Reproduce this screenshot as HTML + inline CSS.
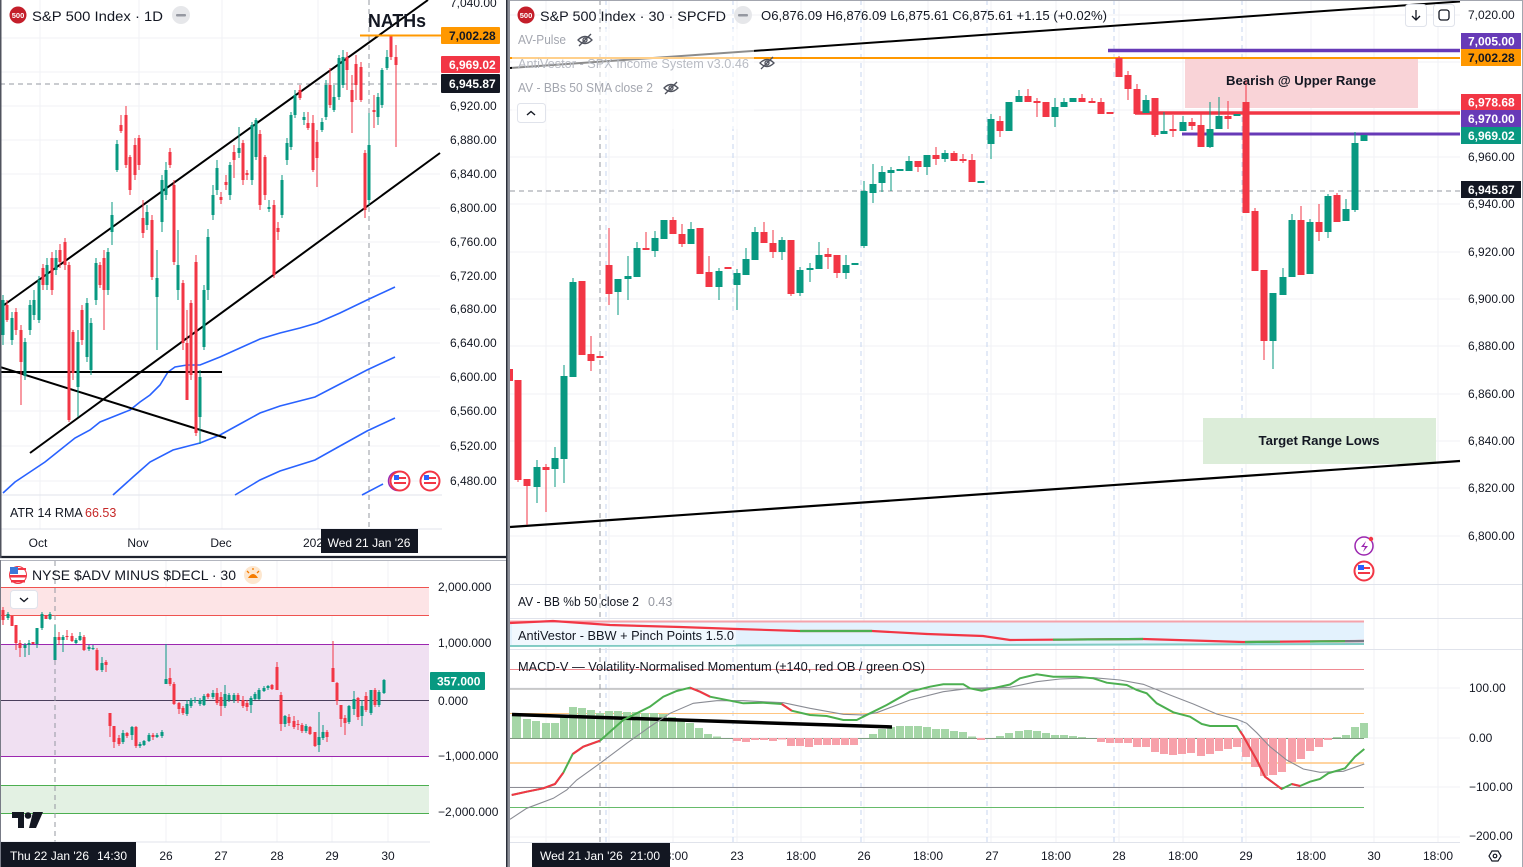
<!DOCTYPE html>
<html><head><meta charset="utf-8">
<style>
html,body{margin:0;padding:0;background:#fff;}
svg{display:block;font-family:"Liberation Sans",sans-serif;}
text{font-family:"Liberation Sans",sans-serif;}
.ax{font-size:12px;fill:#131722;}
.lg{font-size:14px;fill:#131722;}
.sm{font-size:12.5px;fill:#131722;}
.wt{font-size:12px;fill:#fff;font-weight:bold;}
.bt{font-size:12px;fill:#131722;font-weight:bold;}
.gw{stroke:#089981;stroke-width:1;fill:none;}
.rw{stroke:#f23645;stroke-width:1;fill:none;}
.grid{stroke:#f0f2f6;stroke-width:1;}
.vs{stroke:#c7d6ef;stroke-width:1;stroke-dasharray:5 4;}
.ch{stroke:#9598a1;stroke-width:1;stroke-dasharray:5 4;}
</style></head>
<body>
<svg width="1523" height="867" viewBox="0 0 1523 867" xmlns="http://www.w3.org/2000/svg">
<rect width="1523" height="867" fill="#fff"/>

<!-- ================= LEFT TOP PANEL ================= -->
<g>
<g class="grid">
<line x1="0" y1="38" x2="440" y2="38"/><line x1="0" y1="72" x2="440" y2="72"/><line x1="0" y1="106" x2="440" y2="106"/><line x1="0" y1="140" x2="440" y2="140"/><line x1="0" y1="174" x2="440" y2="174"/><line x1="0" y1="208" x2="440" y2="208"/><line x1="0" y1="242" x2="440" y2="242"/><line x1="0" y1="276" x2="440" y2="276"/><line x1="0" y1="309" x2="440" y2="309"/><line x1="0" y1="343" x2="440" y2="343"/><line x1="0" y1="377" x2="440" y2="377"/><line x1="0" y1="411" x2="440" y2="411"/><line x1="0" y1="446" x2="440" y2="446"/><line x1="0" y1="481" x2="440" y2="481"/>
<line x1="40" y1="0" x2="40" y2="529"/><line x1="139" y1="0" x2="139" y2="529"/><line x1="222" y1="0" x2="222" y2="529"/><line x1="318" y1="0" x2="318" y2="529"/>
</g>
<line x1="0" y1="495" x2="442" y2="495" stroke="#e0e3eb"/>
<line x1="0" y1="529" x2="442" y2="529" stroke="#e0e3eb"/>
<line class="ch" x1="369" y1="0" x2="369" y2="529"/>
<line class="ch" x1="0" y1="84" x2="440" y2="84"/>

<g fill="none" stroke="#2962ff" stroke-width="1.6">
<path d="M3,493 L15,482 L30,472 L45,462 L60,450 L75,438 L90,430 L100,422 L110,418 L120,414 L130,410 L140,402 L150,395 L160,385 L168,372 L175,367 L187,365 L200,365 L210,361 L220,357 L240,348 L260,339 L280,333 L300,328 L317,323 L340,313 L367,300 L395,287"/>
<path d="M113,495 L133,477 L150,462 L173,450 L200,443 L220,435 L240,424 L260,413 L280,406 L315,397 L340,384 L367,370 L395,357"/>
<path d="M235,495 L260,480 L280,471 L315,460 L340,446 L367,431 L395,418"/>
<path d="M362,495 L383,484"/>
</g>

<g stroke="#000" stroke-width="2" fill="none">
<line x1="4" y1="305" x2="428" y2="0"/>
<line x1="30" y1="453" x2="440" y2="153"/>
<line x1="0" y1="372" x2="222" y2="372"/>
<line x1="0" y1="367" x2="226" y2="438"/>
</g>

<path class="gw" d="M3 295V345M12 312V345M25 338V380M30 300V335M34 290V320M39 276V323M47 258V290M56 250V275M78 330V417M87 298V362M91 318V375M96 258V305M108 248V295M112 202V245M117 140V172M147 205V230M157 250V350M162 175V232M166 162V200M178 230V300M200 370V444M204 285V350M208 229V300M213 185V220M217 160V195M230 162V200M239 127V158M252 122V185M256 118V160M269 200V212M282 175V218M287 138V165M291 112V150M295 90V118M304 112V125M322 118V132M326 80V120M334 85V112M339 55V100M343 50V88M369 113V205M378 93V125M382 68V108M387 50V70"/>
<path fill="#089981" d="M1.5 300h3V335h-3z M10.5 318h3V340h-3z M23.5 342h3V376h-3z M28.5 305h3V330h-3z M32.5 300h3V315h-3z M37.5 280h3V320h-3z M45.5 265h3V285h-3z M54.5 258h3V270h-3z M76.5 342h3V387h-3z M85.5 303h3V357h-3z M89.5 323h3V370h-3z M94.5 263h3V300h-3z M106.5 252h3V290h-3z M110.5 215h3V232h-3z M115.5 144h3V170h-3z M145.5 212h3V225h-3z M155.5 278h3V297h-3z M160.5 180h3V222h-3z M164.5 170h3V195h-3z M176.5 265h3V290h-3z M198.5 377h3V417h-3z M202.5 290h3V347h-3z M206.5 237h3V290h-3z M211.5 195h3V215h-3z M215.5 168h3V190h-3z M228.5 165h3V195h-3z M237.5 148h3V153h-3z M250.5 125h3V180h-3z M254.5 120h3V157h-3z M267.5 207h3V209h-3z M280.5 180h3V215h-3z M285.5 143h3V160h-3z M289.5 115h3V147h-3z M293.5 95h3V115h-3z M302.5 117h3V120h-3z M320.5 122h3V130h-3z M324.5 85h3V117h-3z M332.5 97h3V110h-3z M337.5 58h3V97h-3z M341.5 57h3V85h-3z M367.5 145h3V200h-3z M376.5 97h3V117h-3z M380.5 70h3V105h-3z M385.5 57h3V68h-3z"/>
<path class="rw" d="M7 300V322M16 308V335M21 325V405M43 264V290M52 252V295M60 244V268M65 238V270M69 262V422M73 330V380M82 305V345M100 262V288M104 250V330M121 115V133M126 106V168M130 155V195M135 138V180M139 135V170M143 200V238M152 215V280M170 148V168M174 180V265M183 280V350M187 310V400M191 300V380M196 255V436M221 192V204M226 175V190M234 145V178M243 140V185M247 170V180M260 130V210M265 155V200M274 200V278M278 222V240M300 85V100M308 112V130M313 115V172M317 130V187M330 68V108M347 52V90M352 75V133M356 55V100M361 62V102M365 150V218M374 95V128M391 35V60M396 45V147"/>
<path fill="#f23645" d="M5.5 305h3V320h-3z M14.5 312h3V330h-3z M19.5 330h3V362h-3z M41.5 268h3V285h-3z M50.5 258h3V290h-3z M58.5 250h3V262h-3z M63.5 242h3V265h-3z M67.5 265h3V420h-3z M71.5 332h3V373h-3z M80.5 310h3V340h-3z M98.5 265h3V285h-3z M102.5 258h3V290h-3z M119.5 125h3V131h-3z M124.5 115h3V165h-3z M128.5 157h3V190h-3z M133.5 145h3V175h-3z M137.5 138h3V165h-3z M141.5 218h3V233h-3z M150.5 220h3V277h-3z M168.5 152h3V165h-3z M172.5 185h3V262h-3z M181.5 283h3V343h-3z M185.5 343h3V400h-3z M189.5 303h3V375h-3z M194.5 262h3V433h-3z M219.5 197h3V200h-3z M224.5 182h3V185h-3z M232.5 152h3V160h-3z M241.5 143h3V180h-3z M245.5 173h3V175h-3z M258.5 134h3V205h-3z M263.5 157h3V195h-3z M272.5 205h3V275h-3z M276.5 228h3V232h-3z M298.5 90h3V98h-3z M306.5 123h3V128h-3z M311.5 123h3V170h-3z M315.5 142h3V158h-3z M328.5 85h3V105h-3z M345.5 57h3V70h-3z M350.5 90h3V102h-3z M354.5 64h3V85h-3z M359.5 67h3V100h-3z M363.5 153h3V210h-3z M372.5 110h3V112h-3z M389.5 36h3V57h-3z M394.5 57h3V65h-3z"/>

<line x1="360" y1="35.5" x2="441" y2="35.5" stroke="#ff9800" stroke-width="2"/>
<text x="368" y="27" font-size="18" font-weight="bold" fill="#131722" textLength="58" lengthAdjust="spacingAndGlyphs">NATHs</text>

<g>
<circle cx="398" cy="481" r="9.5" fill="#fff" stroke="#9c27b0" stroke-width="1.5"/>
<circle cx="400" cy="481" r="9.5" fill="#fff" stroke="#f23645" stroke-width="2"/>
<rect x="394" y="475" width="5" height="5" fill="#2962ff"/>
<rect x="394" y="482" width="12" height="2" fill="#f23645"/>
<rect x="399" y="477" width="7" height="2" fill="#f23645"/>
<circle cx="430" cy="481" r="9.5" fill="#fff" stroke="#f23645" stroke-width="2"/>
<rect x="424" y="475" width="5" height="5" fill="#2962ff"/>
<rect x="424" y="482" width="12" height="2" fill="#f23645"/>
<rect x="429" y="477" width="7" height="2" fill="#f23645"/>
</g>

<circle cx="18" cy="15" r="8.5" fill="#c41e2a"/>
<text x="18" y="18" font-size="7.5" fill="#fff" text-anchor="middle" font-weight="bold">500</text>
<text x="32" y="21" class="lg" textLength="131" lengthAdjust="spacingAndGlyphs">S&amp;P 500 Index · 1D</text>
<circle cx="181" cy="15" r="9" fill="#e6e7ea"/>
<rect x="176" y="14" width="10" height="2.5" rx="1" fill="#9598a1"/>

<text x="10" y="517" class="sm">ATR 14 RMA</text>
<text x="85" y="517" font-size="12.5" fill="#c62828">66.53</text>

<g class="ax">
<text x="450" y="7">7,040.00</text>
<text x="450" y="110">6,920.00</text>
<text x="450" y="144">6,880.00</text>
<text x="450" y="178">6,840.00</text>
<text x="450" y="212">6,800.00</text>
<text x="450" y="246">6,760.00</text>
<text x="450" y="280">6,720.00</text>
<text x="450" y="313">6,680.00</text>
<text x="450" y="347">6,640.00</text>
<text x="450" y="381">6,600.00</text>
<text x="450" y="415">6,560.00</text>
<text x="450" y="450">6,520.00</text>
<text x="450" y="485">6,480.00</text>
</g>
<rect x="441" y="27" width="59" height="17" fill="#ff9800" rx="1"/>
<text x="449" y="40" class="bt">7,002.28</text>
<rect x="441" y="56" width="59" height="17" fill="#f23645" rx="1"/>
<text x="449" y="69" class="wt">6,969.02</text>
<rect x="441" y="74" width="59" height="19" fill="#131722" rx="1"/>
<text x="449" y="88" class="wt">6,945.87</text>

<g class="ax">
<text x="38" y="547" text-anchor="middle">Oct</text>
<text x="138" y="547" text-anchor="middle">Nov</text>
<text x="221" y="547" text-anchor="middle">Dec</text>
<text x="303" y="547">2026</text>
</g>
<rect x="321" y="529" width="97" height="24" fill="#131722"/>
<text x="369" y="547" font-size="12" fill="#fff" text-anchor="middle">Wed 21 Jan '26</text>

<line x1="0" y1="557" x2="507" y2="557" stroke="#1e222d" stroke-width="2.2"/>
<line x1="0.75" y1="0" x2="0.75" y2="558" stroke="#50535e" stroke-width="1.5"/>
</g>

<!-- ================= LEFT BOTTOM PANEL ================= -->
<g>
<g class="grid">
<line x1="166" y1="561" x2="166" y2="842"/><line x1="221" y1="561" x2="221" y2="842"/><line x1="277" y1="561" x2="277" y2="842"/><line x1="332" y1="561" x2="332" y2="842"/><line x1="388" y1="561" x2="388" y2="842"/>
</g>
<rect x="0" y="587" width="429" height="28" fill="#fde4e6"/>
<line x1="0" y1="587.5" x2="429" y2="587.5" stroke="#ef5350"/>
<line x1="0" y1="615.5" x2="429" y2="615.5" stroke="#ef5350"/>
<rect x="0" y="644" width="429" height="112" fill="#f0e0f2"/>
<line x1="0" y1="644.5" x2="429" y2="644.5" stroke="#9c27b0"/>
<line x1="0" y1="756.5" x2="429" y2="756.5" stroke="#9c27b0"/>
<line x1="0" y1="700.5" x2="429" y2="700.5" stroke="#4a3f5c"/>
<rect x="0" y="785" width="429" height="28" fill="#e3f1e3"/>
<line x1="0" y1="785.5" x2="429" y2="785.5" stroke="#4caf50"/>
<line x1="0" y1="813.5" x2="429" y2="813.5" stroke="#4caf50"/>
<line class="ch" x1="55" y1="561" x2="55" y2="842"/>
<line x1="0" y1="842" x2="430" y2="842" stroke="#e0e3eb"/>

<path class="gw" d="M8 612V620M25 643V657M29 640V655M37 628V648M42 612V630M50 612V620M55 625V660M63 635V652M76 638V644M80 632V641M89 645V651M93 645V650M102 657V672M123 730V744M132 726V740M140 742V748M144 740V746M149 733V742M157 733V738M162 730V738M166 644V684M187 700V716M191 698V708M195 697V703M200 698V706M204 694V706M213 690V699M225 685V708M229 693V702M234 693V703M251 696V713M255 692V700M259 688V700M264 686V692M268 685V690M285 715V727M306 724V733M319 712V752M323 725V740M349 705V724M354 691V715M362 700V726M371 690V715M379 690V707M384 679V694"/>
<path fill="#089981" d="M6.5 614h3V618h-3z M23.5 645h3V648h-3z M27.5 643h3V645h-3z M35.5 628h3V644h-3z M40.5 614h3V628h-3z M48.5 614h3V619h-3z M53.5 637h3V660h-3z M61.5 637h3V640h-3z M74.5 640h3V643h-3z M78.5 636h3V640h-3z M87.5 647h3V649h-3z M91.5 648h3V649h-3z M100.5 663h3V670h-3z M121.5 733h3V742h-3z M130.5 727h3V735h-3z M138.5 744h3V746h-3z M142.5 741h3V745h-3z M147.5 735h3V741h-3z M155.5 735h3V737h-3z M160.5 732h3V736h-3z M164.5 679h3V684h-3z M185.5 704h3V714h-3z M189.5 700h3V706h-3z M193.5 700h3V701h-3z M198.5 700h3V704h-3z M202.5 696h3V705h-3z M211.5 693h3V697h-3z M223.5 694h3V706h-3z M227.5 695h3V700h-3z M232.5 695h3V700h-3z M249.5 698h3V705h-3z M253.5 694h3V699h-3z M257.5 690h3V699h-3z M262.5 688h3V691h-3z M266.5 686h3V688h-3z M283.5 716h3V724h-3z M304.5 726h3V731h-3z M317.5 737h3V745h-3z M321.5 732h3V738h-3z M347.5 706h3V722h-3z M352.5 699h3V709h-3z M360.5 706h3V716h-3z M369.5 690h3V713h-3z M377.5 692h3V705h-3z M382.5 680h3V693h-3z"/>
<path class="rw" d="M3 607V625M12 616V626M16 625V650M20 640V657M33 642V644M46 615V619M59 632V645M67 630V640M72 633V642M84 635V651M97 648V671M106 660V672M110 713V737M114 726V748M119 735V746M127 732V738M136 726V748M153 733V740M170 668V686M174 682V705M179 702V714M183 706V715M208 693V699M217 688V705M221 692V716M238 693V703M243 696V708M247 700V711M272 684V690M277 662V690M281 692V731M289 714V726M294 716V729M298 720V730M302 723V733M310 726V735M315 732V747M327 730V742M333 641V682M337 682V705M341 705V727M345 715V735M358 697V720M366 692V712M375 688V707"/>
<path fill="#f23645" d="M1.5 610h3V620h-3z M10.5 616h3V626h-3z M14.5 625h3V643h-3z M18.5 643h3V648h-3z M31.5 642h3V644h-3z M44.5 615h3V619h-3z M57.5 637h3V640h-3z M65.5 636h3V637h-3z M70.5 636h3V641h-3z M82.5 637h3V650h-3z M95.5 650h3V670h-3z M104.5 662h3V665h-3z M108.5 713h3V726h-3z M112.5 726h3V742h-3z M117.5 738h3V744h-3z M125.5 733h3V736h-3z M134.5 727h3V746h-3z M151.5 735h3V737h-3z M168.5 678h3V684h-3z M172.5 684h3V704h-3z M177.5 703h3V709h-3z M181.5 708h3V713h-3z M206.5 694h3V697h-3z M215.5 693h3V703h-3z M219.5 697h3V706h-3z M236.5 695h3V701h-3z M241.5 700h3V706h-3z M245.5 703h3V707h-3z M270.5 685h3V689h-3z M275.5 667h3V690h-3z M279.5 695h3V724h-3z M287.5 717h3V723h-3z M292.5 721h3V727h-3z M296.5 724h3V725h-3z M300.5 725h3V731h-3z M308.5 727h3V734h-3z M313.5 732h3V746h-3z M325.5 732h3V737h-3z M331.5 668h3V682h-3z M335.5 683h3V701h-3z M339.5 705h3V719h-3z M343.5 718h3V723h-3z M356.5 698h3V717h-3z M364.5 696h3V710h-3z M373.5 690h3V705h-3z"/>

<circle cx="18" cy="575" r="8.5" fill="#fff" stroke="#f23645" stroke-width="1"/>
<rect x="10" y="567" width="8" height="7" fill="#3c78d8"/>
<rect x="18" y="568" width="8" height="2" fill="#f23645"/>
<rect x="10" y="575" width="16" height="2.5" fill="#f23645"/>
<rect x="11" y="580" width="14" height="2.5" fill="#f23645"/>
<text x="32" y="580" class="lg" textLength="204" lengthAdjust="spacingAndGlyphs">NYSE $ADV MINUS $DECL · 30</text>
<circle cx="253" cy="575" r="9" fill="#fde7cf"/>
<path d="M248 578 Q253 570 258 578 Z" fill="#f57c00"/>
<path d="M247 571l2 2M259 571l-2 2M253 568v2" stroke="#f57c00" stroke-width="1.3"/>
<rect x="10.5" y="590.5" width="27" height="18" rx="3" fill="#fff" stroke="#e0e3eb"/>
<path d="M20 598l4 3.5 4-3.5" fill="none" stroke="#131722" stroke-width="1.4"/>

<path d="M12 812h12v16h-6v-10h-6z" fill="#131722"/>
<circle cx="28" cy="815.5" r="3.3" fill="#131722"/>
<path d="M33 812h10l-7 16h-7z" fill="#131722"/>

<g class="ax">
<text x="438" y="591">2,000.000</text>
<text x="438" y="647">1,000.000</text>
<text x="438" y="705">0.000</text>
<text x="438" y="760">−1,000.000</text>
<text x="438" y="816">−2,000.000</text>
</g>
<rect x="430" y="672" width="55" height="18" fill="#089981" rx="1"/>
<text x="437" y="685.5" class="wt">357.000</text>
<g class="ax">
<text x="166" y="860" text-anchor="middle">26</text>
<text x="221" y="860" text-anchor="middle">27</text>
<text x="277" y="860" text-anchor="middle">28</text>
<text x="332" y="860" text-anchor="middle">29</text>
<text x="388" y="860" text-anchor="middle">30</text>
</g>
<rect x="1" y="842" width="135" height="25" fill="#131722"/>
<text x="10" y="860" font-size="12" fill="#fff">Thu 22 Jan '26</text>
<text x="97" y="860" font-size="12" fill="#fff">14:30</text>
<line x1="0" y1="560.5" x2="507" y2="560.5" stroke="#b2b5be"/>
<line x1="0.5" y1="560" x2="0.5" y2="867" stroke="#787b86"/>
</g>

<!-- divider -->
<rect x="506" y="0" width="1.6" height="867" fill="#2a2e39"/>
<rect x="507.6" y="0" width="2.4" height="867" fill="#8c8f98"/>

<!-- ================= MAIN PANEL ================= -->
<g>
<g class="grid">
<line x1="510" y1="15" x2="1460" y2="15"/><line x1="510" y1="62" x2="1460" y2="62"/><line x1="510" y1="110" x2="1460" y2="110"/><line x1="510" y1="157" x2="1460" y2="157"/><line x1="510" y1="204" x2="1460" y2="204"/><line x1="510" y1="252" x2="1460" y2="252"/><line x1="510" y1="299" x2="1460" y2="299"/><line x1="510" y1="346" x2="1460" y2="346"/><line x1="510" y1="394" x2="1460" y2="394"/><line x1="510" y1="441" x2="1460" y2="441"/><line x1="510" y1="488" x2="1460" y2="488"/><line x1="510" y1="536" x2="1460" y2="536"/>
<line x1="510" y1="688" x2="1460" y2="688"/><line x1="510" y1="738" x2="1460" y2="738"/><line x1="510" y1="787" x2="1460" y2="787"/><line x1="510" y1="837" x2="1460" y2="837"/>
<line x1="546" y1="0" x2="546" y2="842"/><line x1="609" y1="0" x2="609" y2="842"/><line x1="673" y1="0" x2="673" y2="842"/><line x1="737" y1="0" x2="737" y2="842"/><line x1="801" y1="0" x2="801" y2="842"/><line x1="864" y1="0" x2="864" y2="842"/><line x1="928" y1="0" x2="928" y2="842"/><line x1="991" y1="0" x2="991" y2="842"/><line x1="1056" y1="0" x2="1056" y2="842"/><line x1="1119" y1="0" x2="1119" y2="842"/><line x1="1183" y1="0" x2="1183" y2="842"/><line x1="1246" y1="0" x2="1246" y2="842"/><line x1="1311" y1="0" x2="1311" y2="842"/><line x1="1374" y1="0" x2="1374" y2="842"/><line x1="1438" y1="0" x2="1438" y2="842"/>
</g>
<g class="vs">
<line x1="606" y1="0" x2="606" y2="842"/><line x1="733" y1="0" x2="733" y2="842"/><line x1="861" y1="0" x2="861" y2="842"/><line x1="987" y1="0" x2="987" y2="842"/><line x1="1114" y1="0" x2="1114" y2="842"/><line x1="1242" y1="0" x2="1242" y2="842"/>
</g>
<line x1="510" y1="584.5" x2="1523" y2="584.5" stroke="#e0e3eb"/>
<line x1="510" y1="618.5" x2="1523" y2="618.5" stroke="#e0e3eb"/>
<line x1="510" y1="649.5" x2="1523" y2="649.5" stroke="#e0e3eb"/>
<line x1="510" y1="842.5" x2="1460" y2="842.5" stroke="#e0e3eb"/>

<line class="ch" x1="600" y1="0" x2="600" y2="842"/>
<line class="ch" x1="510" y1="191" x2="1460" y2="191"/>

<rect x="1185" y="57" width="233" height="51" fill="#f9d3d7"/>
<rect x="1203" y="418" width="233" height="46" fill="#dcedd9"/>

<line x1="510" y1="68" x2="1460" y2="1.5" stroke="#000" stroke-width="2"/>
<line x1="510" y1="527" x2="1460" y2="461" stroke="#000" stroke-width="2.2"/>

<line x1="510" y1="58" x2="1460" y2="58" stroke="#ff9800" stroke-width="2"/>
<line x1="1108" y1="50.5" x2="1460" y2="50.5" stroke="#673ab7" stroke-width="3.5"/>
<line x1="1135" y1="113" x2="1460" y2="113" stroke="#f23645" stroke-width="3.5"/>
<line x1="1182" y1="134" x2="1460" y2="134" stroke="#673ab7" stroke-width="3"/>

<path class="gw" d="M537 460V503M555 447V487M564 365V483M573 278V377M618 279V315M628 256V300M637 242V277M655 231V257M691 222V244M719 268V300M737 269V310M746 248V275M755 227V260M782 237V260M800 267V296M810 263V282M819 242V269M846 255V279M864 181V248M873 164V203M882 166V192M891 167V191M909 156V171M927 155V175M945 150V162M991 114V159M1019 90V102M1055 98V127M1064 98V107M1146 95V113M1164 112V134M1183 116V131M1210 102V148M1219 97V129M1273 293V369M1283 268V295M1292 214V277M1310 219V274M1328 194V238M1346 199V221M1355 132V212"/>
<path fill="#089981" d="M533.5 467h7V487h-7z M551.5 458h7V469h-7z M560.5 376h7V459h-7z M569.5 282h7V377h-7z M614.5 279h7V292h-7z M624.5 276h7V279h-7z M633.5 248h7V277h-7z M651.5 238h7V251h-7z M660.5 220h7V239h-7z M687.5 229h7V244h-7z M715.5 271h7V287h-7z M733.5 273h7V285h-7z M742.5 259h7V275h-7z M751.5 232h7V260h-7z M778.5 240h7V252h-7z M796.5 270h7V293h-7z M806.5 268h7V270h-7z M815.5 255h7V269h-7z M842.5 265h7V273h-7z M851.5 263h7V265h-7z M860.5 191h7V246h-7z M869.5 184h7V193h-7z M878.5 172h7V183h-7z M887.5 170h7V173h-7z M896.5 169h7V171h-7z M905.5 161h7V171h-7z M923.5 155h7V167h-7z M941.5 153h7V159h-7z M977.5 181h7V183h-7z M987.5 119h7V144h-7z M1005.5 102h7V131h-7z M1015.5 96h7V102h-7z M1051.5 107h7V117h-7z M1060.5 102h7V107h-7z M1069.5 98h7V102h-7z M1142.5 100h7V113h-7z M1160.5 131h7V134h-7z M1179.5 122h7V131h-7z M1206.5 129h7V147h-7z M1215.5 116h7V129h-7z M1233.5 114h7V116h-7z M1269.5 293h7V341h-7z M1279.5 277h7V295h-7z M1288.5 220h7V277h-7z M1306.5 222h7V274h-7z M1324.5 196h7V232h-7z M1342.5 209h7V221h-7z M1351.5 143h7V210h-7z M1360.5 135h7V141h-7z"/>
<path class="rw" d="M518 380V482M527 479V525M546 464V512M591 336V371M609 228V305M646 232V250M673 217V234M682 224V247M709 256V287M764 222V243M773 230V258M791 240V296M828 248V269M837 255V278M918 161V172M936 147V165M954 151V161M963 154V163M972 154V182M1000 116V137M1028 89V102M1037 98V117M1082 94V102M1092 98V103M1101 98V114M1119 56V77M1128 71V100M1137 84V114M1155 98V137M1173 115V137M1192 118V130M1201 114V147M1228 101V129M1246 80V213M1255 208V271M1264 270V360M1301 206V275M1319 204V241M1337 193V222"/>
<path fill="#f23645" d="M510 369h3V381h-3z M514.5 380h7V480h-7z M523.5 479h7V486h-7z M542.5 467h7V470h-7z M578.5 281h7V355h-7z M587.5 354h7V361h-7z M596.5 356h7V358h-7z M605.5 265h7V294h-7z M642.5 248h7V250h-7z M669.5 220h7V234h-7z M678.5 234h7V244h-7z M696.5 228h7V274h-7z M705.5 272h7V287h-7z M724.5 267h7V269h-7z M760.5 232h7V243h-7z M769.5 243h7V252h-7z M787.5 240h7V294h-7z M824.5 254h7V257h-7z M833.5 255h7V273h-7z M914.5 161h7V167h-7z M932.5 155h7V159h-7z M950.5 153h7V161h-7z M959.5 159h7V161h-7z M968.5 160h7V182h-7z M996.5 121h7V131h-7z M1024.5 96h7V102h-7z M1033.5 101h7V103h-7z M1042.5 102h7V117h-7z M1078.5 98h7V102h-7z M1088.5 101h7V103h-7z M1097.5 102h7V114h-7z M1106.5 112h7V114h-7z M1115.5 58h7V77h-7z M1124.5 75h7V89h-7z M1133.5 89h7V114h-7z M1151.5 98h7V135h-7z M1169.5 129h7V131h-7z M1188.5 122h7V126h-7z M1197.5 125h7V147h-7z M1224.5 116h7V119h-7z M1242.5 102h7V213h-7z M1251.5 211h7V271h-7z M1260.5 270h7V341h-7z M1297.5 220h7V275h-7z M1315.5 222h7V232h-7z M1333.5 195h7V222h-7z"/>

<text x="1301" y="85" text-anchor="middle" font-size="13" font-weight="bold" fill="#131722" textLength="150" lengthAdjust="spacingAndGlyphs">Bearish @ Upper Range</text>
<text x="1319" y="445" text-anchor="middle" font-size="13" font-weight="bold" fill="#131722" textLength="121" lengthAdjust="spacingAndGlyphs">Target Range Lows</text>

<rect x="512" y="29" width="242" height="100" fill="#fff" opacity="0.55"/>
<circle cx="526" cy="15" r="8.5" fill="#c41e2a"/>
<text x="526" y="18" font-size="7.5" fill="#fff" text-anchor="middle" font-weight="bold">500</text>
<text x="540" y="21" class="lg" textLength="186" lengthAdjust="spacingAndGlyphs">S&amp;P 500 Index · 30 · SPCFD</text>
<circle cx="743" cy="15" r="9" fill="#e6e7ea"/>
<rect x="738" y="14" width="10" height="2.5" rx="1" fill="#9598a1"/>
<text x="761" y="20" font-size="12.5" fill="#131722" textLength="346" lengthAdjust="spacingAndGlyphs">O6,876.09  H6,876.09  L6,875.61  C6,875.61  +1.15 (+0.02%)</text>
<text x="518" y="44" font-size="12.5" fill="#a3a6af" textLength="48" lengthAdjust="spacingAndGlyphs">AV-Pulse</text>
<text x="518" y="68" font-size="12.5" fill="#b8bbc3" textLength="231" lengthAdjust="spacingAndGlyphs">AntiVestor - SPX Income System v3.0.46</text>
<text x="518" y="92" font-size="12.5" fill="#a3a6af" textLength="135" lengthAdjust="spacingAndGlyphs">AV - BBs 50 SMA close 2</text>
<g fill="none" stroke="#50535e" stroke-width="1.3">
<path d="M578 40 Q585 33 592 40 Q585 47 578 40Z"/><circle cx="585" cy="40" r="2"/><line x1="579" y1="46" x2="591" y2="34"/>
<path d="M760 63 Q767 56 774 63 Q767 70 760 63Z"/><circle cx="767" cy="63" r="2"/><line x1="761" y1="69" x2="773" y2="57"/>
<path d="M664 88 Q671 81 678 88 Q671 95 664 88Z"/><circle cx="671" cy="88" r="2"/><line x1="665" y1="94" x2="677" y2="82"/>
</g>
<rect x="517.5" y="103.5" width="28" height="19" rx="3" fill="#fff" stroke="#e0e3eb"/>
<path d="M527 115l4-3.5 4 3.5" fill="none" stroke="#131722" stroke-width="1.4"/>

<rect x="1405.5" y="4.5" width="21" height="22" rx="3" fill="#fff" stroke="#e0e3eb"/>
<path d="M1416 10v10M1412 16l4 4 4-4" fill="none" stroke="#131722" stroke-width="1.3"/>
<rect x="1433.5" y="4.5" width="21" height="22" rx="3" fill="#fff" stroke="#e0e3eb"/>
<rect x="1439" y="10" width="10" height="10" rx="2.5" fill="none" stroke="#131722" stroke-width="1.3"/>

<circle cx="1364" cy="546" r="9" fill="#fff" stroke="#9c27b0" stroke-width="1.5"/>
<path d="M1366 541l-5 6h4l-2 5 5-6h-4z" fill="#9c27b0"/>
<circle cx="1371" cy="539" r="2.2" fill="#f23645"/>
<circle cx="1364" cy="571" r="9.5" fill="#fff" stroke="#f23645" stroke-width="2"/>
<rect x="1358" y="565" width="6" height="5" fill="#2962ff"/>
<rect x="1358" y="572" width="12" height="2" fill="#f23645"/>
<rect x="1364" y="567" width="6" height="2" fill="#f23645"/>

<g class="ax">
<text x="1468" y="19">7,020.00</text>
<text x="1468" y="161">6,960.00</text>
<text x="1468" y="208">6,940.00</text>
<text x="1468" y="256">6,920.00</text>
<text x="1468" y="303">6,900.00</text>
<text x="1468" y="350">6,880.00</text>
<text x="1468" y="398">6,860.00</text>
<text x="1468" y="445">6,840.00</text>
<text x="1468" y="492">6,820.00</text>
<text x="1468" y="540">6,800.00</text>
</g>
<rect x="1461" y="33" width="60" height="16" fill="#673ab7"/>
<text x="1468" y="45.5" class="wt">7,005.00</text>
<rect x="1461" y="49" width="60" height="17" fill="#ff9800"/>
<text x="1468" y="62" class="bt">7,002.28</text>
<rect x="1461" y="94" width="60" height="16" fill="#f23645"/>
<text x="1468" y="106.5" class="wt">6,978.68</text>
<rect x="1461" y="110" width="60" height="17" fill="#673ab7"/>
<text x="1468" y="123" class="wt">6,970.00</text>
<rect x="1461" y="127" width="60" height="17" fill="#089981"/>
<text x="1468" y="140" class="wt">6,969.02</text>
<rect x="1461" y="181" width="60" height="17" fill="#131722"/>
<text x="1468" y="194" class="wt">6,945.87</text>

<text x="518" y="606" font-size="12.5" fill="#131722" textLength="121" lengthAdjust="spacingAndGlyphs">AV - BB %b 50 close 2</text>
<text x="648" y="606" font-size="12.5" fill="#9598a1">0.43</text>

<rect x="510" y="622" width="854" height="23" fill="#e3f2fd"/>
<line x1="510" y1="621.5" x2="1364" y2="621.5" stroke="#f5a3ab" stroke-width="2"/>
<line x1="510" y1="646" x2="1364" y2="644" stroke="#80cbc4" stroke-width="2"/>
<rect x="512" y="623" width="224" height="22" fill="#f3f9fe" opacity="0.85"/>
<polyline points="510,623 553,621 610,625 680,627 737,629 800,631 872,631 927,634 983,636 1010,640 1143,639 1243,642 1364,641" fill="none" stroke="#f23645" stroke-width="2.2"/>
<polyline points="800,631 872,631" fill="none" stroke="#4caf50" stroke-width="2.2"/>
<polyline points="1053,639.7 1143,639" fill="none" stroke="#4caf50" stroke-width="2.2"/>
<polyline points="1245,642 1280,641.7" fill="none" stroke="#4caf50" stroke-width="2.2"/>
<polyline points="1310,641.5 1345,641.2" fill="none" stroke="#4caf50" stroke-width="2.2"/>
<polyline points="1345,641.2 1364,641" fill="none" stroke="#787b86" stroke-width="2.2"/>
<text x="518" y="640" font-size="12.5" fill="#131722" textLength="216" lengthAdjust="spacingAndGlyphs">AntiVestor - BBW + Pinch Points 1.5.0</text>

<g stroke-width="1">
<line x1="510" y1="669.5" x2="1364" y2="669.5" stroke="#f08a92"/>
<line x1="510" y1="689" x2="1364" y2="689" stroke="#9e9e9e"/>
<line x1="510" y1="713.5" x2="1364" y2="713.5" stroke="#ffc580"/>
<line x1="510" y1="738.5" x2="1364" y2="738.5" stroke="#7f9a80"/>
<line x1="510" y1="763" x2="1364" y2="763" stroke="#ffc580" stroke-width="1.5"/>
<line x1="510" y1="787.5" x2="1364" y2="787.5" stroke="#8d8d95"/>
<line x1="510" y1="807.5" x2="1364" y2="807.5" stroke="#66bb6a"/>
</g>
<text x="518" y="671" font-size="12.5" fill="#131722" textLength="407" lengthAdjust="spacingAndGlyphs">MACD-V — Volatility-Normalised Momentum (±140, red OB / green OS)</text>

<path fill="#a5d6a7" d="M512 715h9V738h-9z M523 719h8V738h-8z M532 721h8V738h-8z M542 723h8V738h-8z M551 723h8V738h-8z M560 715h8V738h-8z M569 707h8V738h-8z M578 708h8V738h-8z M587 710h8V738h-8z M596 713h8V738h-8z M605 711h8V738h-8z M614 711h8V738h-8z M623 712h8V738h-8z M632 712h8V738h-8z M641 713h8V738h-8z M650 713h8V738h-8z M659 714h8V738h-8z M668 717h8V738h-8z M677 719h8V738h-8z M686 723h8V738h-8z M695 728h8V738h-8z M704 734h8V738h-8z M713 736.5h8V738h-8z M869 734h8V738h-8z M878 729h8V738h-8z M887 727h8V738h-8z M896 726h8V738h-8z M905 726h8V738h-8z M914 726h8V738h-8z M923 727h8V738h-8z M932 729h8V738h-8z M941 729h8V738h-8z M950 731h8V738h-8z M959 732h8V738h-8z M968 736.5h8V738h-8z M996 736h8V738h-8z M1005 733h8V738h-8z M1015 731h8V738h-8z M1024 730h8V738h-8z M1033 731h8V738h-8z M1042 733h8V738h-8z M1051 735h8V738h-8z M1060 735h8V738h-8z M1069 736h8V738h-8z M1078 737h8V738h-8z M1333 737h8V738h-8z M1342 735h8V738h-8z M1351 727h8V738h-8z M1360 723h8V738h-8z"/>
<path fill="#f7a1aa" d="M733 738h8V741h-8z M742 738h8V742h-8z M751 738h8V740h-8z M760 738h8V740h-8z M769 738h8V741h-8z M778 738h8V739.5h-8z M787 738h8V746h-8z M796 738h8V746h-8z M805 738h8V747h-8z M814 738h8V745h-8z M823 738h8V745h-8z M832 738h8V745h-8z M841 738h8V745h-8z M850 738h8V745h-8z M977 738h8V740h-8z M1097 738h8V742h-8z M1106 738h8V743h-8z M1115 738h8V743h-8z M1124 738h8V743h-8z M1133 738h8V747h-8z M1142 738h8V747h-8z M1151 738h8V752h-8z M1160 738h8V754h-8z M1169 738h8V755h-8z M1178 738h8V754h-8z M1187 738h8V753h-8z M1197 738h8V756h-8z M1206 738h8V754h-8z M1215 738h8V751h-8z M1224 738h8V749h-8z M1233 738h8V747h-8z M1242 738h8V757h-8z M1251 738h8V767h-8z M1260 738h8V776h-8z M1269 738h8V775h-8z M1278 738h8V772h-8z M1288 738h8V762h-8z M1297 738h8V759h-8z M1306 738h8V751h-8z M1315 738h8V747h-8z M1324 738h8V740h-8z"/>

<line x1="512" y1="714.5" x2="892" y2="727" stroke="#000" stroke-width="3.5"/>

<polyline fill="none" stroke="#8a8c94" stroke-width="1.1" points="510,819.3 526.7,808.3 553.3,798.3 566.7,790 576.7,780 600,763.3 626.7,743.3 650,726.7 670,713.3 693.3,703.3 716.7,700.7 743.3,700.7 783.3,702.7 810,708.3 843.3,714.3 863.3,715 876.7,712.7 910,700 943.3,691.7 970,688.3 1010,687.3 1036.7,681.7 1060,679 1093.3,677.7 1120,680 1143.3,684.3 1170,695 1193.3,704 1216.7,714 1236.7,719.3 1246.7,723.3 1256.7,732.7 1270,746.7 1286.7,760 1303.3,769 1320,772.3 1343.3,771.3 1364.3,764"/>
<polyline fill="none" stroke="#4caf50" stroke-width="2" points="511.7,795 526.7,791.7 543.3,788.3 555,784 563.3,772.7 572.7,754 583.3,746.7 600,740.7 610,731.7 623.3,720 636.7,713.3 650,706.7 663.3,696.7 676.7,691 690,687.7 700,691.7 710,696.7 723.3,699.3 743.3,703.3 763.3,702.7 781.7,704 791.7,710.7 810,715 826.7,716 843.3,720 856.7,720 870,713.3 886.7,705 910,691.7 930,686.7 943.3,684.3 963.3,684.3 970,688.3 981.7,690.7 1000,686.7 1010,684.5 1020,678.3 1036.7,674.3 1053.3,676.7 1076.7,676.7 1093.3,678.3 1106.7,682.7 1126.7,685 1136.7,690 1146.7,693.3 1156.7,703.3 1173.3,712.3 1190,716.7 1201.7,724 1210,726 1236.7,726 1243.3,736 1256.7,760 1265,776.7 1281.7,789 1291.7,784 1300,786 1310,781.7 1320,779 1328.3,773.3 1345,768.3 1355,756.7 1364.3,749"/>
<g fill="none" stroke="#f23645" stroke-width="2">
<polyline points="511.7,795 526.7,791.7 543.3,788.3 555,784 563.3,772.7"/>
<polyline points="572.7,754 583.3,746.7 600,740.7"/>
<polyline points="690,687.7 700,691.7 710,696.7"/>
<polyline points="781.7,704 791.7,710.7"/>
<polyline points="1240,731 1243.3,736 1256.7,760 1265,776.7 1281.7,789"/>
<polyline points="1291.7,784 1300,786"/>
</g>

<g class="ax">
<text x="1469" y="692">100.00</text>
<text x="1469" y="742">0.00</text>
<text x="1469" y="791">−100.00</text>
<text x="1469" y="840">−200.00</text>
</g>

<g class="ax" text-anchor="middle">
<text x="673" y="860">18:00</text>
<text x="737" y="860">23</text>
<text x="801" y="860">18:00</text>
<text x="864" y="860">26</text>
<text x="928" y="860">18:00</text>
<text x="992" y="860">27</text>
<text x="1056" y="860">18:00</text>
<text x="1119" y="860">28</text>
<text x="1183" y="860">18:00</text>
<text x="1246" y="860">29</text>
<text x="1311" y="860">18:00</text>
<text x="1374" y="860">30</text>
<text x="1438" y="860">18:00</text>
</g>
<rect x="532" y="843" width="138" height="24" fill="#131722"/>
<text x="540" y="860" font-size="12" fill="#fff">Wed 21 Jan '26</text>
<text x="630" y="860" font-size="12" fill="#fff">21:00</text>
<path d="M1489 856l3-5h6l3 5-3 5h-6z" fill="none" stroke="#131722" stroke-width="1.2"/>
<circle cx="1495" cy="856" r="1.8" fill="none" stroke="#131722" stroke-width="1.2"/>

<line x1="510" y1="0.5" x2="1523" y2="0.5" stroke="#a3a6af"/>
<line x1="1522.5" y1="0" x2="1522.5" y2="867" stroke="#a3a6af"/>
</g>
</svg>
</body></html>
